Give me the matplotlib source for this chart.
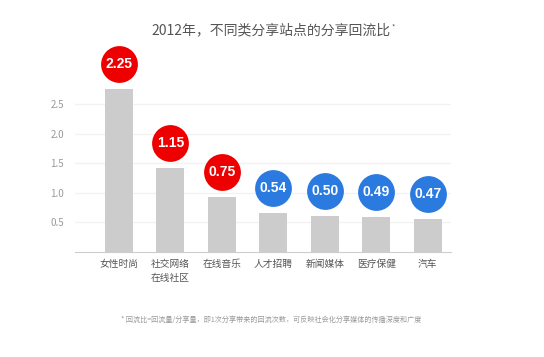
import matplotlib
matplotlib.use('Agg')
import matplotlib.pyplot as plt
from matplotlib.transforms import offset_copy

plt.rcParams['font.family'] = ['Noto Sans CJK SC', 'DejaVu Sans']

categories = ['女性时尚', '社交网络\n在线社区', '在线音乐', '人才招聘', '新闻媒体', '医疗保健', '汽车']
bar_heights = [2.75, 1.41, 0.92, 0.66, 0.60, 0.59, 0.56]
ratio_labels = ['2.25', '1.15', '0.75', '0.54', '0.50', '0.49', '0.47']
circle_colors = ['#ee0000', '#ee0000', '#ee0000', '#2a7ae0', '#2a7ae0', '#2a7ae0', '#2a7ae0']
yticks = [0.5, 1.0, 1.5, 2.0, 2.5]

fig = plt.figure(figsize=(5.44, 3.57), dpi=100)
ax = fig.add_axes([0.138, 0.295, 0.691, 0.463])

x = list(range(len(categories)))
ax.bar(x, bar_heights, width=0.55, color='#cccccc', zorder=2)

ax.set_xlim(-0.85, 6.45)
ax.set_ylim(0, 2.8)
ax.set_yticks(yticks)
ax.set_yticklabels(['%.1f' % v for v in yticks])
ax.set_xticks(x)
ax.set_xticklabels(categories, fontsize=7, color='#555555', linespacing=1.5)
ax.tick_params(axis='both', length=0)
ax.tick_params(axis='y', labelsize=7, colors='#999999', pad=8)
ax.tick_params(axis='x', pad=5)
ax.grid(axis='y', color='#f2f2f2', linewidth=1, zorder=0)
for s in ['top', 'right', 'left']:
    ax.spines[s].set_visible(False)
ax.spines['bottom'].set_color('#cccccc')

# circles sit a fixed distance above each bar
trans = offset_copy(ax.transData, fig=fig, y=25, units='dots')
for xi, h, lab, col in zip(x, bar_heights, ratio_labels, circle_colors):
    ax.plot(xi, h, marker='o', markersize=26.5, color=col, markeredgewidth=0,
            transform=trans, clip_on=False, zorder=3)
    ax.text(xi, h, lab, transform=trans, ha='center', va='center', color='white',
            fontsize=10, fontweight='bold', family='Liberation Sans', zorder=4)

fig.text(0.498, 0.916, '2012年，不同类分享站点的分享回流比', ha='center', va='center',
         fontsize=10, color='#555555')
fig.text(0.722, 0.922, '*', ha='center', va='center', fontsize=5, color='#555555')
fig.text(0.499, 0.103, '* 回流比=回流量/分享量，即1次分享带来的回流次数，可反映社会化分享媒体的传播深度和广度',
         ha='center', va='center', fontsize=5.1, color='#999999')

fig.savefig('out.png', dpi=100)
